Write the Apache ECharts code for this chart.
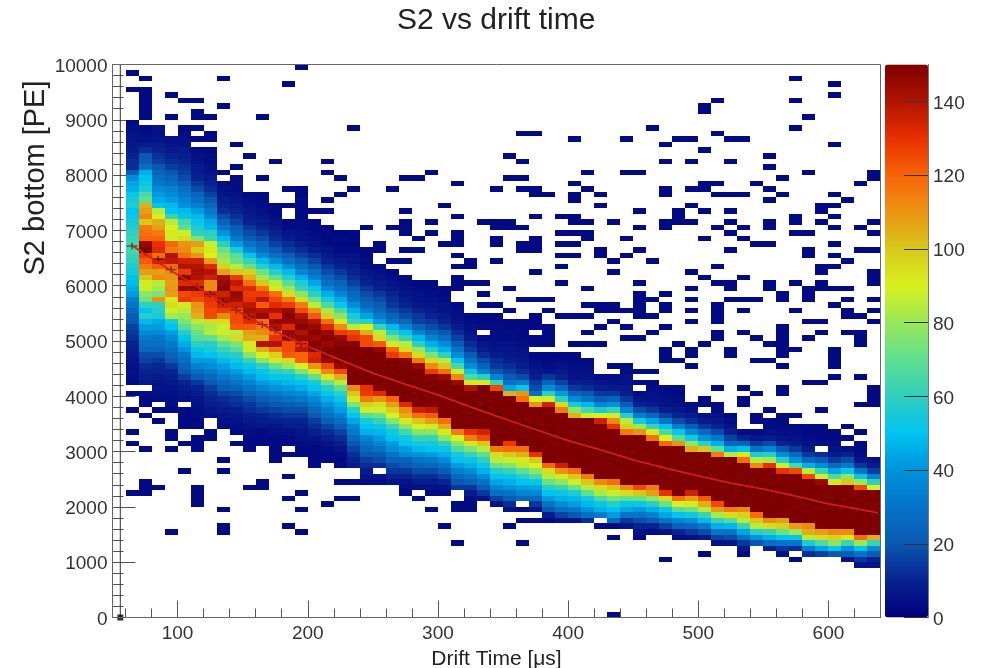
<!DOCTYPE html>
<html>
<head>
<meta charset="utf-8">
<title>S2 vs drift time</title>
<script src="https://cdn.jsdelivr.net/npm/echarts@6/dist/echarts.min.js"></script>
<style>
html, body { margin: 0; padding: 0; background: #fff; }
#main { width: 985px; height: 668px; }
</style>
</head>
<body>
<div id="main"></div>
<script>
// binning: 10 us wide, 100 PE high, first column starts at 60 us
const firstBinX = 60;
const binWidthX = 10;
const binHeightY = 100;

// top occupied row of each column (row n = n*100 PE)
const columnTops = [89,88,88,86,88,88,87,78,79,76,76,74,74,77,71,70,69,68,66,67,
  62,61,60,60,59,56,54,54,54,53,53,54,52,47,47,46,43,43,45,42,
  42,41,41,38,38,38,36,33,36,35,35,34,34,34,33,32,31,28];

// cell counts per column, from the top row downwards, 0 = empty cell
const columnCounts = [
  [3,4,5,6,7,8,10,12,12,22,38,44,46,52,55,57,50,52,55,58,60,62,64,64,62,60,56,54,50,48,45,42,34,30,26,22,20,16,14,12,10,8,7,6,5,5,4,3,0,3,0,0,3],
  [3,4,5,8,12,20,22,28,46,50,52,56,66,70,105,108,112,100,115,118,120,145,148,128,122,115,108,100,92,88,78,72,60,50,58,48,42,38,32,28,25,18,16,12,10,9,8,0,4,3,3,0,3],
  [5,5,6,8,10,13,15,20,24,28,32,38,42,45,50,85,90,105,108,115,120,130,132,118,135,122,108,112,85,82,75,110,60,58,55,45,42,38,30,28,24,18,14,11,10,8,6,6,5,4,0,2,0,2],
  [5,6,7,10,12,15,20,24,28,35,38,42,48,50,62,85,90,92,88,120,115,140,138,120,112,110,108,110,108,92,95,88,82,55,50,42,38,32,28,24,20,14,10,9,7,6,5,4,4,3],
  [3,4,5,6,8,9,11,13,15,18,22,28,32,36,40,48,52,65,70,88,95,110,112,118,135,140,128,145,132,145,125,128,92,85,80,75,68,58,50,45,40,32,28,24,20,15,10,8,6,5,0,3,3,3,3],
  [3,0,3,0,4,5,6,8,8,10,14,18,24,28,34,42,48,52,56,60,75,108,100,110,135,140,142,140,132,145,128,125,110,108,105,85,78,72,68,60,52,48,42,35,28,22,14,10,8,6,5,4,4,3,3],
  [3,3,0,3,4,4,5,6,8,10,12,16,20,26,32,36,45,48,60,62,88,92,90,108,132,140,135,112,112,135,130,128,125,125,95,82,85,70,58,55,50,42,38,32,26,20,15,12,10,8,6,5],
  [4,5,6,8,10,12,18,24,30,40,48,60,72,78,82,98,108,142,145,148,135,140,135,128,112,95,88,88,82,68,62,55,48,42,38,32,26,22,16,12,10,8,6,5,4],
  [3,4,4,5,6,8,10,13,16,22,26,32,42,55,68,72,85,100,128,138,132,145,143,135,125,125,125,122,85,95,75,68,58,54,48,42,36,30,24,18,14,12,9,7,5,4],
  [3,4,5,7,9,10,14,18,22,30,38,50,62,72,98,105,118,132,128,130,138,142,138,132,122,108,105,92,88,78,62,52,48,42,36,30,24,18,14,12,9,7,5,4],
  [3,3,4,5,6,8,10,14,18,24,28,38,48,58,72,82,100,118,128,138,122,140,145,118,115,112,105,140,105,90,78,60,52,48,42,35,28,22,18,14,10,8,6,4],
  [3,3,4,5,7,10,12,16,22,28,38,48,58,70,85,92,118,125,132,140,130,145,140,120,130,140,118,98,92,70,58,52,45,40,32,26,20,16,12,9,6,4,3,3,3,3,2],
  [3,0,0,3,4,6,8,12,15,22,28,38,48,58,68,80,95,115,128,145,148,145,132,145,142,125,125,122,95,80,62,52,48,42,36,28,22,18,14,10,8,5,3,3,0,3],
  [2,2,3,3,3,3,4,4,5,6,8,12,16,22,28,36,46,56,62,78,95,115,125,140,145,148,140,145,130,138,120,120,90,75,58,50,45,38,32,24,18,14,10,8,6,5,4,3,3],
  [3,3,4,5,6,8,12,16,20,28,34,44,52,60,72,85,110,122,140,145,148,145,148,145,132,135,110,92,70,55,50,44,38,32,26,20,15,12,9,6,4,3,3,3,3],
  [3,3,3,4,6,8,10,14,18,24,28,36,46,56,66,82,98,118,132,145,148,145,148,148,145,125,112,92,72,58,52,46,40,34,28,22,16,12,9,6,4,3,3],
  [2,3,3,4,5,8,10,14,18,24,28,36,45,52,66,78,92,112,128,145,148,150,150,150,145,125,105,85,70,58,52,46,42,34,28,22,16,12,9,6,4,3,3],
  [3,3,4,5,6,8,10,12,16,20,26,30,38,46,55,62,85,125,130,148,150,150,150,150,150,150,150,112,100,92,75,58,50,44,36,32,26,20,16,12,10,8,0,0,3],
  [3,3,4,4,6,8,10,14,18,22,26,34,44,60,90,105,125,125,150,150,150,150,150,150,150,130,128,115,98,88,68,55,50,46,35,30,26,20,15,12,8,6,4],
  [3,3,0,0,3,5,6,8,10,14,18,22,26,32,42,62,85,95,122,146,150,150,150,150,150,150,148,132,110,95,88,72,62,52,48,42,36,30,22,18,12,0,6,4],
  [3,4,6,7,10,12,14,18,24,30,48,60,75,92,120,128,150,150,150,150,150,150,150,120,108,98,90,76,62,54,50,42,38,30,24,18,14,10,6],
  [3,4,5,6,8,10,14,18,26,36,50,62,85,95,118,148,150,150,150,150,150,150,150,132,112,105,92,78,64,54,50,42,38,24,20,14,10,6,4,3],
  [3,4,5,6,7,10,14,16,24,36,48,60,80,95,115,145,150,150,150,150,150,150,150,135,118,100,90,76,62,54,48,40,30,24,18,12,8,5,0,3],
  [3,3,4,5,6,8,10,14,18,26,36,46,58,75,95,112,128,148,150,150,150,150,148,138,122,108,92,78,62,54,50,42,32,26,18,12,8,5,3],
  [3,3,4,5,6,8,10,14,20,28,38,46,60,85,100,118,145,150,150,150,150,150,150,150,118,105,92,78,60,52,46,38,30,22,16,10,6,3],
  [3,4,5,6,8,12,16,22,30,38,50,65,88,112,145,150,150,150,150,150,150,150,150,115,90,78,66,54,50,42,34,26,20,14,0,0,3,3],
  [3,4,5,6,8,12,15,22,30,38,52,66,92,140,150,150,150,150,150,150,150,130,115,92,75,62,52,46,38,30,24,14,8,4,3,3],
  [3,3,4,0,4,6,8,12,18,24,34,60,92,150,150,150,150,150,150,150,150,135,125,100,85,70,60,52,46,38,30,22,14,6],
  [3,3,4,4,4,5,6,8,12,14,20,36,62,125,150,150,150,150,150,150,150,150,150,150,115,95,85,72,58,50,44,36,28,16,6],
  [3,3,4,4,5,6,7,9,12,16,22,30,44,105,150,150,150,150,150,150,150,150,128,118,100,88,76,62,52,46,40,30,22,12,5],
  [3,3,3,3,4,5,6,7,9,12,18,34,52,110,118,150,150,150,150,150,150,150,150,118,105,92,85,70,58,50,42,36,26,0,3,0,3],
  [3,3,3,0,3,3,0,3,4,5,7,9,14,18,28,90,110,150,150,150,150,150,150,150,150,130,100,90,78,66,52,44,36,26,14,6,0,3],
  [3,3,3,3,0,3,3,4,6,14,24,38,60,88,135,150,150,150,150,150,150,150,150,150,150,120,95,85,72,58,50,42,30,20,8,3],
  [3,4,5,7,10,16,26,42,60,95,115,150,150,150,150,150,150,150,150,150,135,110,92,78,62,52,46,38,28,16,5],
  [3,3,4,5,6,9,14,24,38,55,78,105,150,150,150,150,150,150,150,150,150,118,100,88,72,56,48,42,32,20,6],
  [3,4,5,6,8,12,20,30,48,65,88,150,150,150,150,150,150,150,150,150,150,115,100,85,70,54,48,40,28,12],
  [4,6,9,14,22,35,55,90,135,150,150,150,150,150,150,150,150,150,150,112,95,82,66,52,46,32],
  [4,5,8,14,24,40,62,88,112,130,150,150,150,150,150,150,150,150,150,118,100,88,74,58,50,42,26,3],
  [3,4,5,6,7,9,14,22,36,58,85,98,115,150,150,150,150,150,150,150,150,150,112,95,70,52,44,30,14,6],
  [3,0,4,6,10,18,34,55,80,110,150,150,150,150,150,150,150,150,150,125,100,72,52,42,30,18,10,5,3],
  [3,4,5,6,8,14,26,44,62,92,118,150,150,150,150,150,150,150,150,115,108,78,58,46,34,22,10,4],
  [3,4,5,6,9,16,30,50,66,90,120,150,150,150,150,150,150,150,150,130,95,72,52,44,30,16,5],
  [3,3,4,5,7,10,18,34,52,68,110,150,150,150,150,150,150,150,150,150,118,90,68,50,36,24,10,4],
  [4,5,8,12,22,38,54,78,105,150,150,150,150,150,150,150,135,108,92,72,54,40,26,14,5],
  [3,0,5,8,14,26,40,60,100,150,150,150,150,150,150,150,150,122,105,85,62,48,32,18,7],
  [3,4,5,7,10,18,32,46,70,115,150,150,150,150,150,150,150,150,125,108,82,62,46,30,16,5],
  [3,4,6,9,16,26,46,85,150,150,150,150,150,150,150,150,150,115,95,68,48,30,18,6],
  [4,10,24,50,92,118,150,150,150,150,150,150,150,150,112,98,85,62,44,28,14,7,3],
  [3,3,0,4,7,14,30,56,85,112,150,150,150,150,150,150,150,150,118,100,85,58,40,20],
  [3,4,5,8,18,36,58,82,130,150,150,150,150,150,150,150,150,150,112,95,62,46,28,9],
  [3,3,4,6,10,20,38,58,88,130,150,150,150,150,150,150,150,150,108,98,72,50,30,14,5],
  [3,4,5,8,14,26,40,65,125,150,150,150,150,150,150,150,150,150,108,80,52,30,12,0,3],
  [3,3,4,5,8,14,26,46,85,125,150,150,150,150,150,150,150,150,112,105,85,56,34,12],
  [3,3,3,4,0,12,22,38,62,88,145,150,150,150,150,150,150,150,150,108,95,66,44,16],
  [3,3,4,5,8,14,26,44,66,92,150,150,150,150,150,150,150,150,112,98,78,52,20],
  [3,0,5,10,18,32,52,78,100,150,150,150,150,150,150,150,150,112,92,62,40,22,6],
  [3,3,4,6,14,30,52,80,125,150,150,150,150,150,150,150,150,118,80,50,30,14,6],
  [5,8,15,35,60,90,150,150,150,150,150,150,150,150,105,62,38,22,10,6]
];

// isolated single entries outside the band, list of rows for each column
const strayRows = [
  [98,95,33,31,22],[97,95,94,93,92,91,90,30,24,23,22],[23],[94,90,33,32,30,15],[93,31,26],
  [93,91,90,32,31,30,23,22,21,20],[90,33,32],[97,92,80,28,26,19,16,15],[85,81,33,31],[83,32,31,30,23],
  [90,79,33,32,31,24,23],[82],[96,77,25,21,16],[99,22,19,15],[73],
  [82,80,75,73,20],[79,76,24,21],[88,77,69,21],[70],[],
  [77,70,64],[79,73,71,70,69,66,64],[79,68,66],[80,71,69,19],[74,67,16],
  [78,72,69,68,67,65,63,61,60,59,13],[64,63,60],[71,60,58,56],[77,71,70,68,67,64,56],[83,79,71,70,59,55,16],
  [87,82,79,77,70,67,66,57,13],[87,77,76,72,68,67,66,62,57],[76,57,55],[72,69,67,65,63,60,54],[86,78,76,75,72,71,69,67,65,54,49],
  [80,77,71,69,68,59,56,54,51,49],[76,74,66,65,56,55,52,49,16],[71,64,62,56,55,53,45,16,14,0],[86,80,68,65,55,52,50],[80,73,70,66,60,58,57,56,55,54,50,44],
  [88,64,57,54,51,44],[85,82,77,76,71,70,58,56,55,52,48,47,46,10],[86,73,72,71,49,46],[86,82,77,74,71,62,59,57,55,53,48,47,45],[92,91,84,78,77,73,68,61,49,39,11],
  [93,87,78,76,70,63,60,56,55,54,53,51,50,41],[86,82,76,73,71,69,66,60,59,57,48,47],[86,76,70,68,61,57,55,51,41,39,38],[78,67,57,50,46,40],[83,81,77,75,71,70,67,60,59,49,46,37],
  [79,76,58,57,52,51,50,49,48,47,45,41,40,36],[97,93,88,72,71,69,60,55,48,36,10],[90,80,69,66,65,59,58,57,53,50,42],[74,73,71,63,62,60,59,53,51,42,37],[96,94,85,76,74,72,70,67,65,63,59,56,48,47,46,45,43],
  [75,64,59,57,55,54,51,34],[78,70,66,54,51,50,49,43,38,33],[80,79,71,69,66,62,61,60,57,55,53,41,40,39,38]
];
const strayCount = 3;

// fitted curve
const fitX = [64,80,100,120,140,160,180,200,225,250,275,300,325,350,375,400,425,450,475,500,525,550,575,600,620,638];
const fitY = [6740,6500,6200,5910,5620,5360,5120,4900,4660,4420,4220,4027,3810,3600,3400,3200,3030,2850,2700,2560,2430,2320,2195,2056,1975,1890];

// profile points that sit under the curve, one per column
const profileX = [65,75,85,95,105,115,125,135,145,155,165,175,185,195,205,215,225,235,245,255,265,275,285,295,305,315,325,335,345,355,365,375,385,395,405,415,425,435,445,455,465,475,485,495,505,515,525,535,545,555,565,575,585,595,605,615,625,635];
const profileY = [6720,6610,6480,6290,6150,5980,5850,5700,5560,5440,5300,5190,5060,4950,4860,4770,4660,4570,4480,4390,4300,4240,4150,4070,3990,3900,3820,3750,3660,3570,3490,3420,3340,3250,3170,3100,3040,2950,2890,2830,2770,2710,2640,2590,2530,2480,2430,2380,2340,2300,2240,2200,2130,2080,2040,2000,1950,1900];

// the one underflow profile bin, its error bar runs over the whole y range
const underflowX = [56, 56];
const underflowY = [0, 10000];

const xMajorTicks = [100,200,300,400,500,600];
const xMinorTicks = [60,80,120,140,160,180,220,240,260,280,320,340,360,380,420,440,460,480,520,540,560,580,620,640];

const paletteColors = ['#00007f','#08228f','#0a58b0','#0573c8','#0092dc','#00c4f0','#2fcfbf','#5fe08f','#98e858','#d8f020','#d8c81c','#ea9412','#f86408','#e83000','#b01400','#7f0000'];

const cells = [];
columnCounts.forEach(function (counts, col) {
  counts.forEach(function (count, k) {
    if (count > 0) {
      cells.push([firstBinX + col * binWidthX, (columnTops[col] - k) * binHeightY, count]);
    }
  });
  strayRows[col].forEach(function (row) {
    cells.push([firstBinX + col * binWidthX, row * binHeightY, strayCount]);
  });
});

function zip(xs, ys) {
  return xs.map(function (x, i) { return [x, ys[i]]; });
}

// draw one histogram cell through the axis scales
function renderCell(params, api) {
  const p0 = api.coord([api.value(0), api.value(1) + binHeightY]);
  const p1 = api.coord([api.value(0) + binWidthX, api.value(1)]);
  const x0 = Math.round(p0[0]);
  const y0 = Math.round(p0[1]);
  return {
    type: 'rect',
    shape: { x: x0, y: y0, width: Math.round(p1[0]) - x0, height: Math.round(p1[1]) - y0 },
    style: { fill: api.visual('color') }
  };
}

const labelFont = 'Liberation Sans, Helvetica, Arial, sans-serif';
const labelStyle = { fontFamily: labelFont, fontSize: 19, color: '#333' };

const chart = echarts.init(document.getElementById('main'), null, { renderer: 'canvas' });
chart.setOption({
  animation: false,
  backgroundColor: '#fff',
  title: {
    text: 'S2 vs drift time',
    left: 392,
    top: 1,
    textStyle: { fontFamily: labelFont, fontSize: 30, fontWeight: 'normal', color: '#222' }
  },
  graphic: [{
    type: 'text',
    x: 36,
    y: 178,
    rotation: Math.PI / 2,
    style: {
      text: 'S2 bottom [PE]',
      font: '29px ' + labelFont,
      fill: '#222',
      align: 'center',
      verticalAlign: 'middle'
    }
  }],
  grid: [
    { left: 112.5, top: 64.5, width: 768, height: 553, outerBoundsMode: 'none', show: true, borderColor: '#666', borderWidth: 1, backgroundColor: 'transparent', z: 5 },
    { left: 885, top: 64.5, width: 43, height: 553, outerBoundsMode: 'none' }
  ],
  xAxis: [
    {
      type: 'value', gridIndex: 0, min: 50, max: 640,
      name: 'Drift Time [μs]', nameLocation: 'middle', nameGap: 24,
      nameTextStyle: { fontFamily: labelFont, fontSize: 21, color: '#222' },
      axisLine: { onZero: false, lineStyle: { color: '#555' } },
      axisTick: { inside: true, length: 17, lineStyle: { color: '#555' }, customValues: xMajorTicks },
      axisLabel: { ...labelStyle, margin: 7, customValues: xMajorTicks },
      splitLine: { show: false }
    },
    {
      type: 'value', gridIndex: 0, min: 50, max: 640, position: 'bottom',
      axisLine: { show: false, onZero: false },
      axisTick: { inside: true, length: 9, lineStyle: { color: '#555' }, customValues: xMinorTicks },
      axisLabel: { show: false },
      splitLine: { show: false }
    },
    { type: 'value', gridIndex: 1, min: 0, max: 1, show: false }
  ],
  yAxis: [
    {
      type: 'value', gridIndex: 0, min: 0, max: 10000, interval: 1000,
      axisLine: { show: true, onZero: false, lineStyle: { color: '#555' } },
      axisTick: { show: true, inside: true, length: 23, lineStyle: { color: '#555' } },
      minorTick: { show: true, splitNumber: 5, length: 11, lineStyle: { color: '#555' } },
      axisLabel: { ...labelStyle, margin: 5, verticalAlign: 'top', lineHeight: 4, formatter: function (v) { return String(v); } },
      splitLine: { show: false }
    },
    {
      type: 'value', gridIndex: 1, min: 0, max: 150, interval: 20, position: 'right', z: 8,
      axisLine: { show: true, onZero: false, lineStyle: { color: '#777' } },
      axisTick: { show: true, inside: true, length: 24, lineStyle: { color: '#333' } },
      axisLabel: { ...labelStyle, margin: 5, verticalAlign: 'top', lineHeight: 4, showMaxLabel: false },
      splitLine: { show: false }
    }
  ],
  visualMap: {
    type: 'continuous',
    seriesIndex: 0,
    dimension: 2,
    min: 0,
    max: 150,
    calculable: false,
    realtime: false,
    left: 885,
    top: 64.5,
    padding: 0,
    itemWidth: 43,
    itemHeight: 553,
    text: null,
    inRange: { color: paletteColors }
  },
  series: [
    {
      type: 'custom',
      xAxisIndex: 0,
      yAxisIndex: 0,
      coordinateSystem: 'cartesian2d',
      renderItem: renderCell,
      encode: { x: 0, y: 1 },
      data: cells,
      z: 1
    },
    {
      type: 'scatter',
      xAxisIndex: 0,
      yAxisIndex: 0,
      symbol: 'path://M0 3H10V4H0Z M4.5 0H5.5V7H4.5Z',
      symbolSize: [11, 7],
      itemStyle: { color: '#111' },
      data: zip(profileX, profileY),
      z: 2
    },
    {
      type: 'line',
      xAxisIndex: 0,
      yAxisIndex: 0,
      showSymbol: false,
      lineStyle: { color: '#e01a0a', width: 1.8 },
      data: zip(fitX, fitY),
      z: 3
    },
    {
      type: 'line',
      xAxisIndex: 0,
      yAxisIndex: 0,
      showSymbol: false,
      lineStyle: { color: '#333', width: 1 },
      data: zip(underflowX, underflowY),
      z: 3
    },
    {
      type: 'scatter',
      xAxisIndex: 0,
      yAxisIndex: 0,
      symbol: 'rect',
      symbolSize: 6,
      clip: false,
      itemStyle: { color: '#000' },
      data: [[underflowX[0], underflowY[0]]],
      z: 4
    }
  ]
});
</script>
</body>
</html>
